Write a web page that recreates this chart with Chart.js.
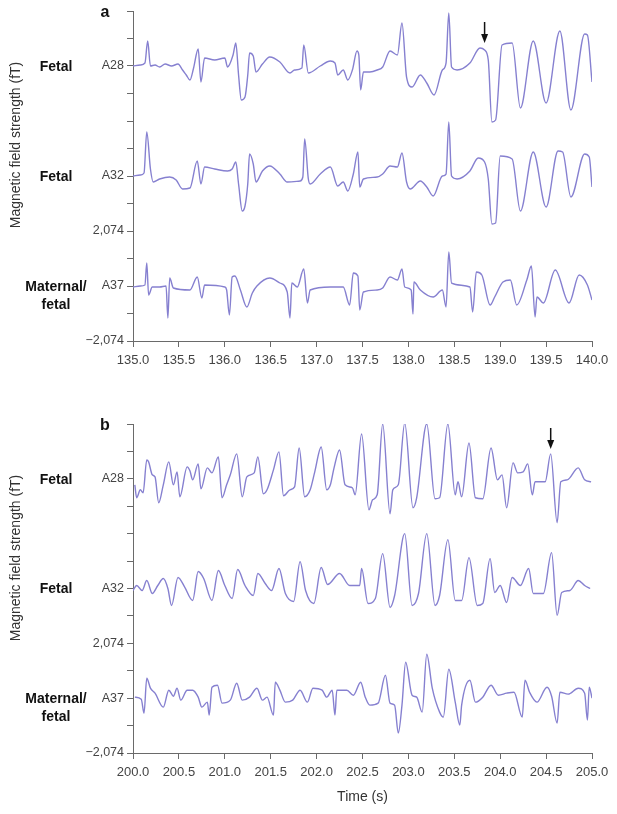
<!DOCTYPE html>
<html><head><meta charset="utf-8">
<script src="https://cdn.jsdelivr.net/npm/chart.js@4/dist/chart.umd.min.js"></script>
<style>
html,body{margin:0;padding:0;background:#fff;}
#wrap{position:relative;width:617px;height:814px;overflow:hidden;}
#ca{position:absolute;left:0;top:0;}
#cb{position:absolute;left:0;top:400px;}
</style></head><body>
<div id="wrap">
<canvas id="ca" width="617" height="400"></canvas>
<canvas id="cb" width="617" height="414"></canvas>
</div>
<script>
// ---- data (fT, each channel relative to its own baseline) ----
const channelNames = ['A28','A32','A37'];
const rowLabels = [['Fetal'],['Fetal'],['Maternal/','fetal']];
const channelOffsets = [8296, 4148, 0];
const yTickValues = [-2074,-1037,0,1037,2074,3111,4148,5185,6222,7259,8296,9333,10370];
const yTickLabels = ['\u22122,074','','A37','','2,074','','A32','','','','A28','',''];
const xTicksA = [135.0,135.5,136.0,136.5,137.0,137.5,138.0,138.5,139.0,139.5,140.0];
const xLabelsA = ['135.0','135.5','136.0','136.5','137.0','137.5','138.0','138.5','139.0','139.5','140.0'];
const xTicksB = [200.0,200.5,201.0,201.5,202.0,202.5,203.0,203.5,204.0,204.5,205.0];
const xLabelsB = ['200.0','200.5','201.0','201.5','202.0','202.5','203.0','203.5','204.0','204.5','205.0'];
const arrowA = {t:138.83, from:9955, to:9163};
const arrowB = {t:204.55, from:10219, to:9427};
const Y_TITLE = 'Magnetic field strength (fT)';
const X_TITLE = 'Time (s)';

// Panel a
const aA28t = [135.00,135.08,135.13,135.16,135.19,135.24,135.29,135.35,135.42,135.49,135.54,135.58,135.62,135.66,135.71,135.74,135.78,135.89,136.00,136.03,136.09,136.12,136.15,136.18,136.22,136.25,136.27,136.31,136.34,136.41,136.49,136.60,136.71,136.76,136.84,136.86,136.91,137.04,137.15,137.20,137.23,137.29,137.34,137.39,137.44,137.46,137.48,137.51,137.58,137.66,137.72,137.80,137.88,137.93,137.98,138.04,138.13,138.20,138.28,138.37,138.41,138.44,138.47,138.53,138.67,138.78,138.83,138.87,138.91,138.95,139.02,139.13,139.22,139.36,139.50,139.65,139.77,139.92,139.95,140.00];
const aA28v = [0,38,113,943,0,38,-38,75,0,75,-151,-339,-528,-75,641,-603,302,226,302,-38,415,867,-339,-1282,-1169,-339,490,377,-226,75,339,151,-264,-151,-75,792,-264,0,189,113,-339,-151,-528,-151,566,415,-905,-226,-226,-151,-38,566,415,1621,-415,-792,-339,-641,-1093,-151,113,1998,-38,-151,113,679,603,226,-2111,-2036,792,867,-1583,943,-1395,1320,-1659,1206,1169,-603];
const aA32t = [135.00,135.08,135.12,135.15,135.19,135.22,135.29,135.40,135.47,135.54,135.62,135.70,135.74,135.78,135.89,136.03,136.08,136.12,136.15,136.19,136.22,136.25,136.27,136.31,136.34,136.41,136.49,136.60,136.68,136.82,136.85,136.87,136.91,136.93,137.04,137.15,137.23,137.29,137.34,137.40,137.45,137.47,137.51,137.66,137.72,137.80,137.88,137.93,137.98,138.02,138.13,138.20,138.27,138.37,138.41,138.44,138.47,138.53,138.67,138.76,138.83,138.87,138.91,138.95,139.00,139.13,139.22,139.36,139.50,139.63,139.68,139.77,139.92,139.97,140.00];
const aA32v = [0,38,113,1659,264,-226,-113,-38,-151,-490,-452,566,-302,339,264,189,264,528,-302,-1320,-1131,-302,829,452,-226,189,377,75,-226,-189,-38,1395,-113,-302,75,339,-377,-226,-566,75,905,-415,-113,-38,75,377,339,867,-226,-490,-189,-415,-754,0,75,2036,0,-113,189,679,528,-113,-1810,-1772,754,641,-1320,905,-1169,943,905,-792,829,716,-415];
const aA37t = [135.00,135.08,135.13,135.15,135.17,135.21,135.29,135.36,135.38,135.40,135.44,135.62,135.70,135.75,135.78,136.00,136.02,136.05,136.08,136.11,136.17,136.24,136.30,136.35,136.49,136.60,136.68,136.71,136.73,136.79,136.86,136.90,136.93,137.15,137.29,137.36,137.40,137.45,137.47,137.51,137.66,137.72,137.80,137.88,137.93,137.96,138.03,138.05,138.06,138.13,138.27,138.37,138.41,138.44,138.47,138.67,138.70,138.74,138.80,138.89,138.94,139.03,139.11,139.18,139.29,139.34,139.38,139.40,139.47,139.60,139.75,139.86,139.95,140.00];
const aA37v = [-38,0,38,867,-339,-38,-38,0,-1206,302,-75,-151,339,-452,38,-38,-151,-1093,339,377,-151,-792,-264,0,302,113,-226,-1206,113,-38,641,-641,-151,-38,-38,-716,490,377,-905,-226,-151,-75,339,226,641,-38,-151,-1056,151,-151,-415,-151,-792,1282,113,-38,-980,528,415,-716,-415,151,226,-716,226,754,-1169,-415,-641,603,-641,415,38,-528];

// Panel b
const bA28t = [200.02,200.04,200.08,200.11,200.15,200.17,200.21,200.24,200.28,200.33,200.39,200.44,200.48,200.51,200.59,200.62,200.65,200.71,200.74,200.81,200.86,200.93,200.97,201.02,201.06,201.13,201.19,201.24,201.32,201.36,201.42,201.46,201.53,201.59,201.64,201.71,201.76,201.81,201.87,201.93,201.98,202.05,202.11,202.15,202.19,202.25,202.31,202.39,202.42,202.49,202.57,202.61,202.66,202.72,202.80,202.83,202.89,202.96,203.05,203.09,203.20,203.29,203.34,203.43,203.51,203.54,203.58,203.66,203.73,203.81,203.90,203.97,204.02,204.07,204.14,204.19,204.25,204.30,204.35,204.38,204.49,204.55,204.62,204.66,204.73,204.85,204.92,204.99];
const bA28v = [-226,-716,-415,-528,716,641,151,75,-905,-226,641,-226,264,-679,452,302,-38,566,-377,415,226,829,-716,-226,151,943,-679,75,226,829,-566,-415,339,1018,-641,-415,-302,1169,-679,-415,264,1206,-415,-226,415,1093,-226,-339,-603,1697,-1169,-792,-603,2074,-1320,-415,-226,2111,-1093,-716,2074,-754,-716,2074,-603,-113,-679,1357,-716,-754,1169,-38,151,-1093,603,226,264,566,-603,-113,-113,943,-1659,-113,-38,415,-38,-113];
const bA32t = [200.00,200.04,200.10,200.15,200.21,200.27,200.33,200.38,200.42,200.49,200.56,200.65,200.71,200.77,200.86,200.93,201.00,201.08,201.14,201.22,201.31,201.36,201.44,201.51,201.59,201.66,201.75,201.82,201.88,201.97,202.05,202.12,202.25,202.36,202.47,202.49,202.56,202.64,202.72,202.80,202.85,202.96,203.04,203.11,203.20,203.29,203.34,203.43,203.51,203.58,203.66,203.75,203.81,203.89,203.94,204.00,204.07,204.13,204.22,204.31,204.36,204.47,204.56,204.62,204.67,204.76,204.85,204.92,204.98];
const bA32v = [-75,113,-75,302,-189,113,377,0,-641,415,75,-452,641,377,-452,679,113,-377,716,113,-264,566,189,-75,754,-189,-490,1018,-75,-566,792,151,566,113,113,754,-566,-377,1320,-716,-264,2074,-641,-189,2074,-641,-264,1847,-452,-452,1169,-641,-566,1131,-151,113,-528,415,113,754,-189,-189,1357,-1018,-151,-75,302,113,0];
const bA37t = [200.02,200.09,200.12,200.15,200.19,200.24,200.33,200.39,200.44,200.48,200.52,200.59,200.65,200.71,200.75,200.81,200.83,200.86,200.92,200.97,201.06,201.13,201.19,201.27,201.35,201.41,201.46,201.53,201.55,201.60,201.66,201.74,201.82,201.90,201.96,202.06,202.11,202.17,202.20,202.22,202.33,202.40,202.48,202.53,202.58,202.67,202.75,202.80,202.85,202.89,202.93,202.97,203.04,203.09,203.15,203.20,203.26,203.34,203.38,203.44,203.51,203.56,203.58,203.67,203.73,203.81,203.90,203.98,204.07,204.15,204.24,204.27,204.32,204.40,204.51,204.56,204.62,204.65,204.74,204.85,204.92,204.95,204.97,205.00];
const bA37v = [38,-38,-566,754,377,189,-339,302,75,377,-75,302,302,38,-339,-151,-641,415,490,-189,-75,566,-75,38,377,-75,38,-641,603,302,-151,-75,302,-151,377,302,38,302,-641,302,302,113,603,38,-264,-189,867,-189,-264,-1320,-264,1357,113,38,-528,1659,377,-528,-716,1093,-151,-1018,-264,679,-151,38,490,113,189,226,-716,679,226,-151,415,75,-943,226,151,377,189,-829,415,0];

// ---- rendering ----
const FONT = '"Liberation Sans", Arial, sans-serif';
const LINE_COLOR = 'rgb(134,128,208)';
const AXIS_COLOR = '#6a6a6a';

function series(ts, vs, off){
  const n = Math.min(ts.length, vs.length);
  const out = [];
  for(let i=0;i<n;i++) out.push({x: ts[i], y: vs[i] + off});
  return out;
}

const annotPlugin = {
  id: 'annot',
  afterDraw(chart, args, opts){
    const ctx = chart.ctx, ys = chart.scales.y, xs = chart.scales.x;
    ctx.save();
    ctx.fillStyle = '#111';
    ctx.textAlign = 'center';
    ctx.textBaseline = 'middle';
    ctx.font = 'bold 16px ' + FONT;
    ctx.fillText(opts.letter, 105, ys.top + 2);
    ctx.font = 'bold 14px ' + FONT;
    rowLabels.forEach((lines, i) => {
      const y = ys.getPixelForValue(channelOffsets[i]);
      lines.forEach((ln, j) => ctx.fillText(ln, 56, y + 1 + j * 18));
    });
    // arrow
    const ax = xs.getPixelForValue(opts.arrow.t);
    const y1 = ys.getPixelForValue(opts.arrow.from);
    const y2 = ys.getPixelForValue(opts.arrow.to);
    ctx.strokeStyle = '#111'; ctx.lineWidth = 1.5;
    ctx.beginPath(); ctx.moveTo(ax, y1); ctx.lineTo(ax, y2 - 7); ctx.stroke();
    ctx.beginPath(); ctx.moveTo(ax - 3.5, y2 - 9); ctx.lineTo(ax + 3.5, y2 - 9); ctx.lineTo(ax, y2); ctx.closePath(); ctx.fill();
    // y title
    ctx.translate(16, ys.top + 134);
    ctx.rotate(-Math.PI / 2);
    ctx.fillStyle = '#333';
    ctx.font = '14px ' + FONT;
    ctx.fillText(Y_TITLE, 0, 0);
    ctx.restore();
  }
};

function makeChart(id, data, xTicks, xLabels, letter, arrow, showXTitle, xHeight, topPad){
  const datasets = data.map((d, i) => ({
    label: channelNames[i],
    data: series(d[0], d[1], channelOffsets[i]),
    borderColor: LINE_COLOR, borderWidth: 1.4, pointRadius: 0,
    cubicInterpolationMode: 'monotone', fill: false
  }));
  new Chart(document.getElementById(id), {
    type: 'line',
    data: { datasets },
    options: {
      responsive: false, animation: false, parsing: true,
      layout: { padding: { left: 0, right: 25, top: topPad, bottom: 0 } },
      plugins: { legend: { display: false }, tooltip: { enabled: false }, annot: { letter, arrow } },
      scales: {
        x: {
          type: 'linear', min: xTicks[0], max: xTicks[xTicks.length - 1],
          afterBuildTicks: s => { s.ticks = xTicks.map(v => ({ value: v })); },
          afterFit: s => { s.height = xHeight; },
          ticks: { autoSkip: false, maxRotation: 0, callback: (v, i) => xLabels[i], color: '#444', font: { family: FONT, size: 13 }, padding: 6 },
          grid: { drawOnChartArea: false, drawTicks: true, tickLength: 6, color: AXIS_COLOR },
          border: { color: AXIS_COLOR, width: 1 },
          title: { display: showXTitle, text: X_TITLE, color: '#333', font: { family: FONT, size: 14 }, padding: { top: 4, bottom: 8 } }
        },
        y: {
          type: 'linear', min: yTickValues[0], max: yTickValues[yTickValues.length - 1],
          afterBuildTicks: s => { s.ticks = yTickValues.map(v => ({ value: v })); },
          afterFit: s => { s.width = 133; },
          ticks: { autoSkip: false, callback: (v, i) => yTickLabels[i], color: '#444', font: { family: FONT, size: 12.5 }, padding: 3 },
          grid: { drawOnChartArea: false, drawTicks: true, tickLength: 6, color: AXIS_COLOR },
          border: { color: AXIS_COLOR, width: 1 }
        }
      }
    },
    plugins: [annotPlugin]
  });
}

makeChart('ca', [[aA28t, aA28v], [aA32t, aA32v], [aA37t, aA37v]], xTicksA, xLabelsA, 'a', arrowA, false, 59, 11);
makeChart('cb', [[bA28t, bA28v], [bA32t, bA32v], [bA37t, bA37v]], xTicksB, xLabelsB, 'b', arrowB, true, 61, 24);
</script>
</body></html>
